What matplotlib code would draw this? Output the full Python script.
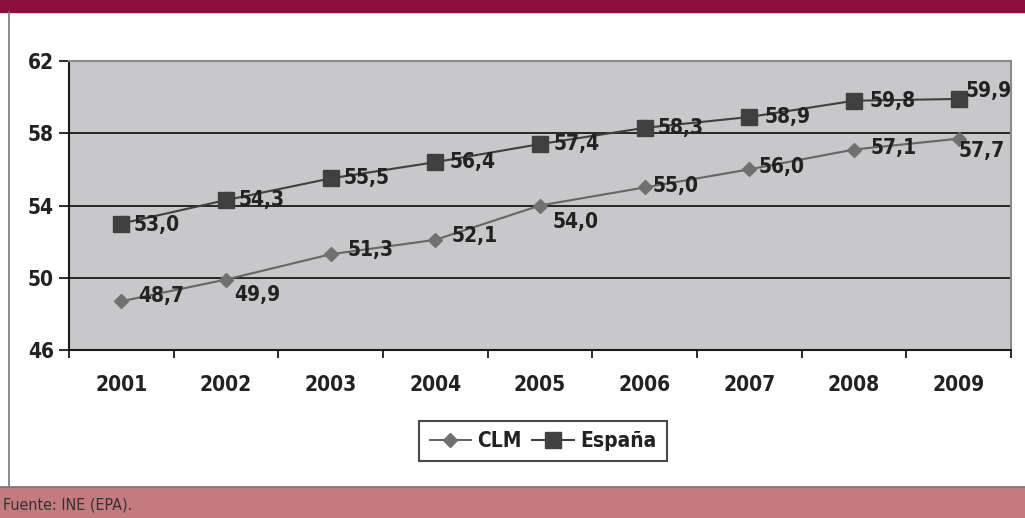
import matplotlib.pyplot as plt
from matplotlib.lines import Line2D
from matplotlib.patches import Rectangle
from matplotlib import font_manager

years = ["2001", "2002", "2003", "2004", "2005", "2006", "2007", "2008", "2009"]
clm = [48.7, 49.9, 51.3, 52.1, 54.0, 55.0, 56.0, 57.1, 57.7]
espana = [53.0, 54.3, 55.5, 56.4, 57.4, 58.3, 58.9, 59.8, 59.9]
yticks = [46, 50, 54, 58, 62]

# label offsets in points (dx, dy)
clm_off = [(12, 4), (6, -11), (12, 3), (12, 3), (9, -12), (6, 1), (7, 2), (12, 1), (0, -9)]
esp_off = [(9, -1), (9, 0), (9, 0), (10, 0), (10, 0), (9, 0), (11, 0), (11, 0), (5, 6)]

# use a condensed face if there is one installed
condensed = [f for f in font_manager.fontManager.ttflist
             if ("Condensed" in f.fname or "Narrow" in f.name) and f.weight in (700, "bold")]
if condensed:
    fam = [condensed[0].name, "Liberation Sans", "DejaVu Sans"]
    stretch = condensed[0].stretch
else:
    fam = ["Liberation Sans", "DejaVu Sans"]
    stretch = "normal"
plt.rcParams['font.family'] = fam
plt.rcParams['font.stretch'] = stretch

W, H = 1025, 518
fig = plt.figure(figsize=(W / 100, H / 100), dpi=100)

# frame bands
fig.patches.append(Rectangle((0, 1 - 12 / H), 1, 12 / H, transform=fig.transFigure,
                             color="#8B0F3B", zorder=0))
fig.patches.append(Rectangle((0, 0), 1, 31 / H, transform=fig.transFigure,
                             color="#C47B80", zorder=0))
fig.lines.append(Line2D([0, 1], [31 / H, 31 / H], transform=fig.transFigure,
                        color="#777777", lw=1.2))
fig.lines.append(Line2D([8.5 / W, 8.5 / W], [31 / H, 1 - 12 / H], transform=fig.transFigure,
                        color="#777777", lw=1.2))
fig.text(3 / W, 13 / H, "Fuente: INE (EPA).", fontsize=11.5, color="#333333",
         va="center", ha="left", fontweight="normal")

ax = fig.add_axes([69 / W, (H - 350) / H, 942 / W, 289 / H])
ax.set_facecolor("#C8C8CA")
x = list(range(len(years)))

for v in [50, 54, 58]:
    ax.axhline(v, color="#1a1a1a", lw=1.3, zorder=1)

ax.plot(x, clm, color="#666666", lw=1.5, marker="D", markersize=7,
        markerfacecolor="#707070", markeredgecolor="#707070", label="CLM", zorder=3)
ax.plot(x, espana, color="#404040", lw=1.5, marker="s", markersize=11,
        markerfacecolor="#404040", markeredgecolor="#404040", label="España", zorder=3)

for i in x:
    ax.annotate(f"{clm[i]:.1f}".replace(".", ","), (i, clm[i]), xytext=clm_off[i],
                textcoords="offset points", fontsize=15, fontweight="bold",
                color="#222222", va="center", ha="left", zorder=4)
    ax.annotate(f"{espana[i]:.1f}".replace(".", ","), (i, espana[i]), xytext=esp_off[i],
                textcoords="offset points", fontsize=15, fontweight="bold",
                color="#222222", va="center", ha="left", zorder=4)

ax.set_xlim(-0.5, len(years) - 0.5)
ax.set_ylim(46, 62)
ax.set_yticks(yticks)
ax.set_yticklabels([str(t) for t in yticks], fontsize=15, fontweight="bold", color="#222222")
ax.set_xticks([i + 0.5 for i in range(-1, len(years))])
ax.set_xticklabels([])
ax.set_xticks(x, minor=True)
ax.set_xticklabels(years, minor=True, fontsize=15, fontweight="bold", color="#222222")
ax.tick_params(axis="x", which="minor", length=0, pad=18)
ax.tick_params(axis="x", which="major", length=6, width=1.3, direction="out", color="#1a1a1a")
ax.tick_params(axis="y", length=7, width=1.3, direction="out", color="#1a1a1a", pad=4)

ax.spines["left"].set_color("#1a1a1a")
ax.spines["left"].set_linewidth(1.5)
ax.spines["bottom"].set_color("#1a1a1a")
ax.spines["bottom"].set_linewidth(1.5)
ax.spines["top"].set_color("#8a8a8a")
ax.spines["top"].set_linewidth(1.5)
ax.spines["right"].set_color("#8a8a8a")
ax.spines["right"].set_linewidth(1.5)

leg = ax.legend(loc="center", bbox_to_anchor=((543 - 69) / 942, -(441 - 350) / 289),
                ncol=2, frameon=True, fancybox=False,
                prop={"weight": "bold", "size": 15}, handlelength=2.0,
                columnspacing=0.5, handletextpad=0.3, borderpad=0.5, borderaxespad=0)
leg.get_frame().set_edgecolor("#1a1a1a")
leg.get_frame().set_linewidth(1.5)
for t in leg.get_texts():
    t.set_color("#222222")

fig.savefig("out.png", dpi=100)
